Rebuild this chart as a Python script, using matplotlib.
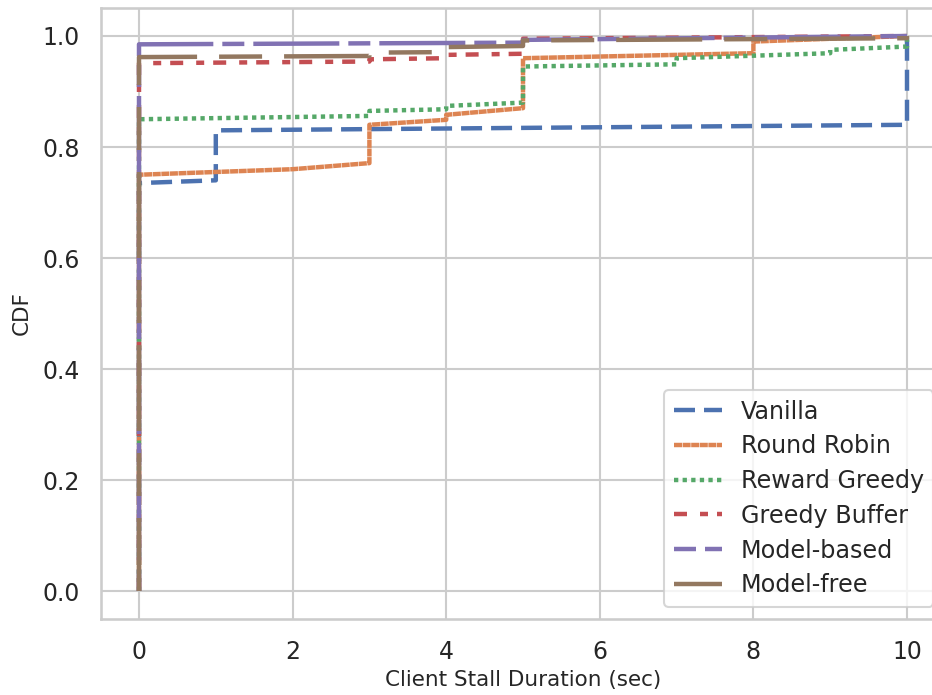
import matplotlib
matplotlib.use("Agg")
import matplotlib.pyplot as plt
import seaborn as sns

# ---- data (CDF vertices) ----
labels = ["Vanilla", "Round Robin", "Reward Greedy", "Greedy Buffer", "Model-based", "Model-free"]

vanilla_x = [0, 0, 1, 1, 10, 10]
vanilla_y = [0, 0.735, 0.740, 0.830, 0.840, 1.0]

rr_x = [0, 0, 2, 3, 3, 4, 4, 5, 5, 8, 8, 10]
rr_y = [0, 0.750, 0.760, 0.771, 0.840, 0.849, 0.858, 0.870, 0.960, 0.969, 0.990, 1.0]

rg_x = [0, 0, 3, 3, 4, 4, 5, 5, 7, 7, 9, 9, 10, 10]
rg_y = [0, 0.850, 0.856, 0.865, 0.868, 0.874, 0.880, 0.945, 0.949, 0.960, 0.969, 0.975, 0.981, 1.0]

gb_x = [0, 0, 3, 3, 4, 4, 5, 5, 10]
gb_y = [0, 0.951, 0.954, 0.958, 0.960, 0.966, 0.968, 0.995, 1.0]

mb_x = [0, 0, 5, 5, 10]
mb_y = [0, 0.985, 0.988, 0.993, 1.0]

mf_x = [0, 0, 3, 3, 4, 4, 5, 5, 10, 10]
mf_y = [0, 0.962, 0.964, 0.970, 0.971, 0.980, 0.982, 0.992, 0.996, 1.0]

series_x = [vanilla_x, rr_x, rg_x, gb_x, mb_x, mf_x]
series_y = [vanilla_y, rr_y, rg_y, gb_y, mb_y, mf_y]

# ---- style ----
sns.set_theme(style="whitegrid", context="talk")
plt.rcParams["font.family"] = ["DejaVu Sans"]
plt.rcParams["lines.scale_dashes"] = False

px = 0.72  # points per pixel at dpi 100
styles = [
    (0, (21 * px, 9 * px)),
    (0, (8 * px, 0.6 * px)),
    (0, (4.3 * px, 4.3 * px)),
    (0, (13 * px, 13 * px, 8 * px, 9 * px)),
    (95 * px, (86 * px, 9 * px, 22 * px, 9 * px)),
    (13 * px, (86 * px, 22 * px, 43 * px, 22 * px)),
]
colors = sns.color_palette("deep", 6)

fig = plt.figure(figsize=(9.32, 6.95), dpi=100)
ax = fig.add_axes([0.10794, 0.10971, 0.90644, 0.87842])

for xs, ys, lab, ls, c in zip(series_x, series_y, labels, styles, colors):
    ax.plot(xs, ys, label=lab, linestyle=ls, color=c, linewidth=3.2)

ax.set_xlim(-0.5, 10.5)
ax.set_ylim(-0.05, 1.05)
ax.set_xticks([0, 2, 4, 6, 8, 10])
ax.set_yticks([0.0, 0.2, 0.4, 0.6, 0.8, 1.0])
ax.tick_params(axis="both", labelsize=17, colors=".15", length=0)
ax.tick_params(axis="x", pad=15)
ax.tick_params(axis="y", pad=15)
ax.set_xlabel("Client Stall Duration (sec)", fontsize=15.5, color=".15", labelpad=4.5)
ax.set_ylabel("CDF", fontsize=15.5, color=".15", labelpad=7.5)

leg = ax.legend(loc="lower right", fontsize=17.2, labelspacing=0.45)

fig.savefig("out.png", dpi=100)
